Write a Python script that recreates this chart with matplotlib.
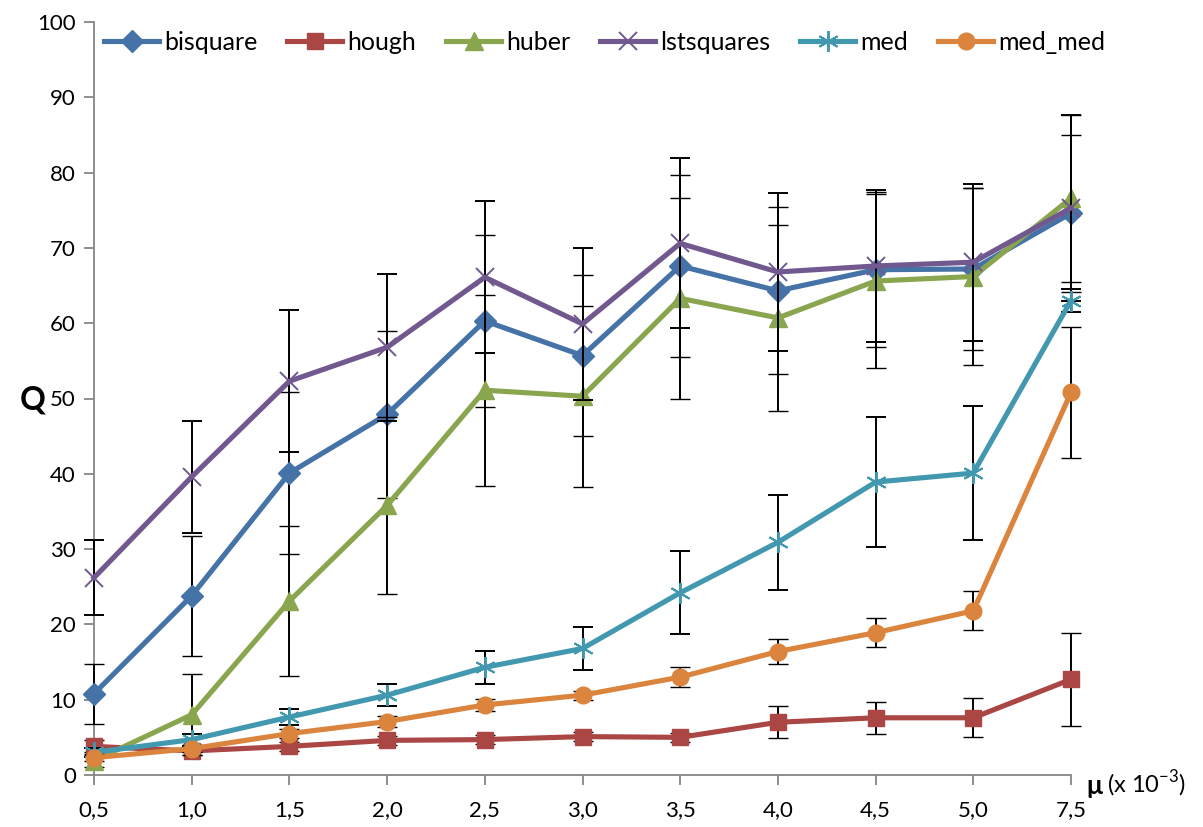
import numpy as np
import matplotlib
matplotlib.use("Agg")
import matplotlib.pyplot as plt
from matplotlib.lines import Line2D

plt.rcParams['font.family'] = ['Lato', 'DejaVu Sans']
plt.rcParams['mathtext.fontset'] = 'custom'
plt.rcParams['mathtext.rm'] = 'Lato'

# categories (mu x 10^-3)
mu_labels = ["0,5", "1,0", "1,5", "2,0", "2,5", "3,0", "3,5", "4,0", "4,5", "5,0", "7,5"]

bisquare = [10.8, 23.8, 40.1, 47.9, 60.3, 55.7, 67.6, 64.3, 67.1, 67.2, 74.6]
bisquare_err = [4.0, 8.0, 10.8, 11.1, 11.4, 10.7, 12.1, 11.1, 10.3, 10.8, 10.4]

hough = [3.8, 3.2, 3.8, 4.6, 4.7, 5.1, 5.0, 7.0, 7.6, 7.6, 12.7]
hough_err = [0.8, 0.6, 0.6, 0.6, 0.6, 0.6, 0.6, 2.1, 2.15, 2.6, 6.15]

huber = [1.9, 8.0, 23.1, 35.8, 51.1, 50.3, 63.3, 60.7, 65.6, 66.2, 76.6]
huber_err = [0.8, 5.4, 10.0, 11.7, 12.7, 12.0, 13.3, 12.4, 11.6, 11.8, 11.1]

lstsquares = [26.2, 39.6, 52.3, 56.8, 66.1, 59.9, 70.6, 66.8, 67.6, 68.1, 75.3]
lstsquares_err = [4.95, 7.4, 9.4, 9.8, 10.1, 10.1, 11.3, 10.5, 10.1, 10.4, 12.4]

med = [3.0, 4.7, 7.7, 10.6, 14.3, 16.8, 24.2, 30.9, 38.9, 40.1, 63.0]
med_err = [0.6, 0.8, 1.0, 1.5, 2.15, 2.8, 5.5, 6.35, 8.6, 8.9, 1.5]

med_med = [2.3, 3.5, 5.5, 7.1, 9.3, 10.6, 13.0, 16.4, 18.9, 21.8, 50.8]
med_med_err = [0.5, 0.5, 0.6, 0.7, 0.8, 0.6, 1.35, 1.6, 1.9, 2.6, 8.7]

x = np.arange(len(mu_labels))

series = [
    ("bisquare", bisquare, bisquare_err, "#4572A7", "D", 11, 1.0),
    ("hough", hough, hough_err, "#AA4643", "s", 11, 1.0),
    ("huber", huber, huber_err, "#89A54E", "^", 13, 1.0),
    ("lstsquares", lstsquares, lstsquares_err, "#71588F", "x", 13, 1.4),
    ("med", med, med_err, "#4198AF", (6, 2, 0), 15, 1.4),
    ("med_med", med_med, med_med_err, "#DB843D", "o", 12, 1.0),
]

fig = plt.figure(figsize=(12.03, 8.27), dpi=100)
ax = fig.add_axes([94 / 1203, 1 - 775 / 827, (1071 - 94) / 1203, (775 - 22) / 827])

handles = []
for i, (name, vals, err, col, mk, ms, mew) in enumerate(series):
    ax.errorbar(x, vals, yerr=err, color=col, lw=3.7, marker=mk, markersize=ms,
                markeredgewidth=mew, markeredgecolor=col, markerfacecolor=col,
                ecolor="black", elinewidth=1.4, capsize=7, capthick=1.4,
                zorder=3 + i, clip_on=False)
    handles.append(Line2D([], [], color=col, lw=3.7, marker=mk, markersize=ms,
                          markeredgewidth=mew, markeredgecolor=col,
                          markerfacecolor=col, label=name))

ax.set_xlim(0, len(mu_labels) - 1)
ax.set_ylim(0, 100)
ax.set_yticks(np.arange(0, 101, 10))
ax.set_xticks(x)
ax.set_xticklabels(mu_labels)

gray = "#868686"
for s in ["top", "right"]:
    ax.spines[s].set_visible(False)
for s in ["left", "bottom"]:
    ax.spines[s].set_color(gray)
    ax.spines[s].set_linewidth(1.3)
ax.tick_params(axis="both", direction="out", length=7, width=1.3, color=gray,
               labelsize=16, labelcolor="black")
ax.tick_params(axis="x", pad=11)
ax.tick_params(axis="y", pad=6)

# axis titles
fig.text(20 / 1203, 1 - 400 / 827, "Q", fontsize=23, fontweight="bold",
         ha="left", va="center")
fig.text(1086 / 1203, 1 - 786 / 827, "μ", fontsize=19, fontweight="bold",
         ha="left", va="center")
fig.text(1107 / 1203, 1 - 784 / 827, "(x 10$^{-3}$)", fontsize=17,
         ha="left", va="center")

ax.legend(handles=handles, loc="center left", bbox_to_anchor=(104 / 1203, 1 - 42 / 827),
          bbox_transform=fig.transFigure, ncol=6, frameon=False, fontsize=18,
          handlelength=2.2, handletextpad=0.2, columnspacing=1.2, borderpad=0,
          borderaxespad=0)

plt.savefig("out.png", dpi=100)
